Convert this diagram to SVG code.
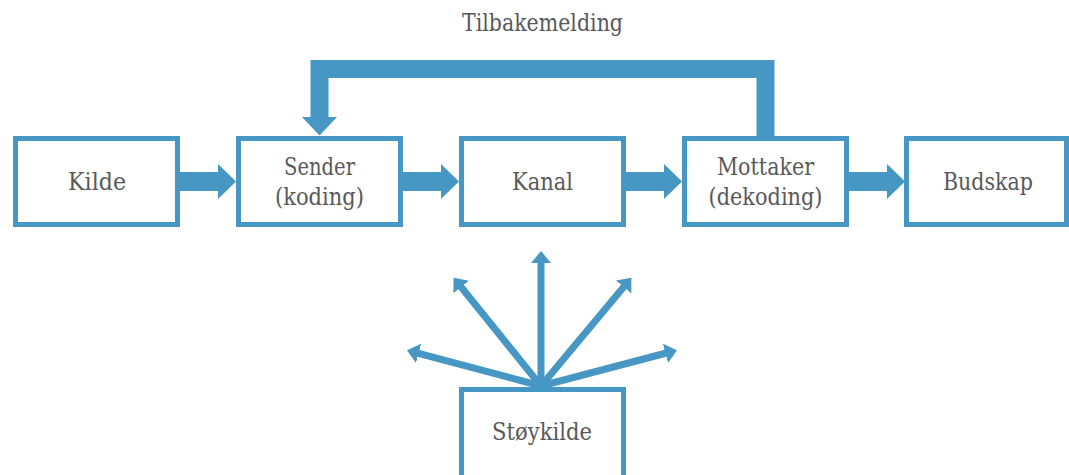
<svg xmlns="http://www.w3.org/2000/svg" width="1069" height="475" viewBox="0 0 1069 475">
  <style>
    .box { fill: #ffffff; stroke: #4797C4; stroke-width: 5; }
    .lbl { font-family: "DejaVu Serif", serif; font-size: 24px; fill: #595959; text-anchor: middle; }
    .flow { fill: #4797C4; }
    .noise { stroke: #4797C4; stroke-width: 7; fill: none; marker-end: url(#head); }
    .fb { stroke: #4797C4; stroke-width: 18; fill: none; stroke-linejoin: miter; }
  </style>
  <defs>
    <marker id="head" markerUnits="userSpaceOnUse" markerWidth="14" markerHeight="22" refX="1" refY="10" orient="auto">
      <path d="M0,0 L12,10 L0,20 z" fill="#4797C4"/>
    </marker>
    <path id="bigArrow" d="M0,172 H38 V164 L56,181.5 L38,199 V191 H0 z"/>
  </defs>

  <g id="connectors">
    <use href="#bigArrow" class="flow" x="180"/>
    <use href="#bigArrow" class="flow" x="403"/>
    <use href="#bigArrow" class="flow" x="626"/>
    <use href="#bigArrow" class="flow" x="849"/>
    <g id="feedback">
      <path class="fb" d="M765.5,136 V69 H319.5 V118"/>
      <polygon class="flow" points="302,117 337,117 319.5,135.5"/>
      <text class="lbl" x="542.5" y="31" textLength="161" lengthAdjust="spacingAndGlyphs">Tilbakemelding</text>
    </g>
    <g id="noise-arrows">
      <line class="noise" x1="541" y1="386" x2="541" y2="262"/>
      <line class="noise" x1="541" y1="386" x2="460.5" y2="286.3"/>
      <line class="noise" x1="541" y1="386" x2="624.3" y2="286.2"/>
      <line class="noise" x1="541" y1="386" x2="417.6" y2="353.1"/>
      <line class="noise" x1="541" y1="386" x2="666.4" y2="353"/>
    </g>
  </g>

  <g id="kilde">
    <rect class="box" x="15.5" y="138.5" width="162" height="86"/>
    <text class="lbl" x="97" y="190" textLength="58" lengthAdjust="spacingAndGlyphs">Kilde</text>
  </g>
  <g id="sender">
    <rect class="box" x="238.5" y="138.5" width="162" height="86"/>
    <text class="lbl" x="319.5" y="175" textLength="71" lengthAdjust="spacingAndGlyphs">Sender</text>
    <text class="lbl" x="319.5" y="205" textLength="89" lengthAdjust="spacingAndGlyphs">(koding)</text>
  </g>
  <g id="kanal">
    <rect class="box" x="461.5" y="138.5" width="162" height="86"/>
    <text class="lbl" x="542.5" y="190" textLength="61" lengthAdjust="spacingAndGlyphs">Kanal</text>
  </g>
  <g id="mottaker">
    <rect class="box" x="684.5" y="138.5" width="162" height="86"/>
    <text class="lbl" x="765.5" y="175" textLength="97" lengthAdjust="spacingAndGlyphs">Mottaker</text>
    <text class="lbl" x="765.5" y="205" textLength="114" lengthAdjust="spacingAndGlyphs">(dekoding)</text>
  </g>
  <g id="budskap">
    <rect class="box" x="906.5" y="138.5" width="160" height="86"/>
    <text class="lbl" x="988" y="190" textLength="90" lengthAdjust="spacingAndGlyphs">Budskap</text>
  </g>
  <g id="stoykilde">
    <rect class="box" x="461.5" y="389.5" width="162" height="90"/>
    <text class="lbl" x="542" y="440" textLength="100" lengthAdjust="spacingAndGlyphs">Støykilde</text>
  </g>
</svg>
